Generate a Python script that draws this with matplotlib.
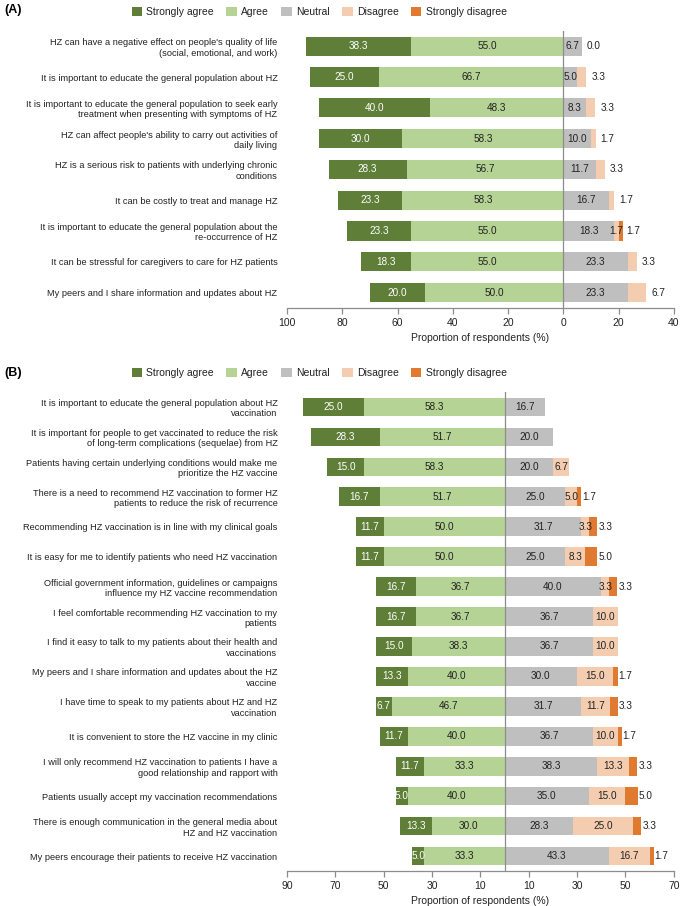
import numpy as np
import matplotlib
matplotlib.use('Agg')
import matplotlib.pyplot as plt
from matplotlib.patches import Patch

plt.rcParams['font.family'] = ['Liberation Sans', 'DejaVu Sans']

# Categorias de respuesta
cats = ['Strongly agree', 'Agree', 'Neutral', 'Disagree', 'Strongly disagree']
colors = ['#5f7e38', '#b5d394', '#bfbfbf', '#f4cdb0', '#e07a30']

# Panel A
labels_a = [
    "HZ can have a negative effect on people's quality of life\n(social, emotional, and work)",
    "It is important to educate the general population about HZ",
    "It is important to educate the general population to seek early\ntreatment when presenting with symptoms of HZ",
    "HZ can affect people's ability to carry out activities of\ndaily living",
    "HZ is a serious risk to patients with underlying chronic\nconditions",
    "It can be costly to treat and manage HZ",
    "It is important to educate the general population about the\nre-occurrence of HZ",
    "It can be stressful for caregivers to care for HZ patients",
    "My peers and I share information and updates about HZ",
]
sa_a = [38.3, 25.0, 40.0, 30.0, 28.3, 23.3, 23.3, 18.3, 20.0]
ag_a = [55.0, 66.7, 48.3, 58.3, 56.7, 58.3, 55.0, 55.0, 50.0]
ne_a = [6.7, 5.0, 8.3, 10.0, 11.7, 16.7, 18.3, 23.3, 23.3]
di_a = [0.0, 3.3, 3.3, 1.7, 3.3, 1.7, 1.7, 3.3, 6.7]
sd_a = [0.0, 0.0, 0.0, 0.0, 0.0, 0.0, 1.7, 0.0, 0.0]
ticks_a = [-100, -80, -60, -40, -20, 0, 20, 40]

# Panel B
labels_b = [
    "It is important to educate the general population about HZ\nvaccination",
    "It is important for people to get vaccinated to reduce the risk\nof long-term complications (sequelae) from HZ",
    "Patients having certain underlying conditions would make me\nprioritize the HZ vaccine",
    "There is a need to recommend HZ vaccination to former HZ\npatients to reduce the risk of recurrence",
    "Recommending HZ vaccination is in line with my clinical goals",
    "It is easy for me to identify patients who need HZ vaccination",
    "Official government information, guidelines or campaigns\ninfluence my HZ vaccine recommendation",
    "I feel comfortable recommending HZ vaccination to my\npatients",
    "I find it easy to talk to my patients about their health and\nvaccinations",
    "My peers and I share information and updates about the HZ\nvaccine",
    "I have time to speak to my patients about HZ and HZ\nvaccination",
    "It is convenient to store the HZ vaccine in my clinic",
    "I will only recommend HZ vaccination to patients I have a\ngood relationship and rapport with",
    "Patients usually accept my vaccination recommendations",
    "There is enough communication in the general media about\nHZ and HZ vaccination",
    "My peers encourage their patients to receive HZ vaccination",
]
sa_b = [25.0, 28.3, 15.0, 16.7, 11.7, 11.7, 16.7, 16.7, 15.0, 13.3, 6.7, 11.7, 11.7, 5.0, 13.3, 5.0]
ag_b = [58.3, 51.7, 58.3, 51.7, 50.0, 50.0, 36.7, 36.7, 38.3, 40.0, 46.7, 40.0, 33.3, 40.0, 30.0, 33.3]
ne_b = [16.7, 20.0, 20.0, 25.0, 31.7, 25.0, 40.0, 36.7, 36.7, 30.0, 31.7, 36.7, 38.3, 35.0, 28.3, 43.3]
di_b = [0.0, 0.0, 6.7, 5.0, 3.3, 8.3, 3.3, 10.0, 10.0, 15.0, 11.7, 10.0, 13.3, 15.0, 25.0, 16.7]
sd_b = [0.0, 0.0, 0.0, 1.7, 3.3, 5.0, 3.3, 0.0, 0.0, 1.7, 3.3, 1.7, 3.3, 5.0, 3.3, 1.7]
ticks_b = [-90, -70, -50, -30, -10, 10, 30, 50, 70]

fs = 7.2
fs_lab = 6.7
txt = '#222222'
axcol = '#8c8c8c'


def panel(ax, labels, sa, ag, ne, di, sd, ticks, xlim, modo):
    n = len(labels)
    y = np.arange(n)
    sa, ag, ne, di, sd = map(np.array, (sa, ag, ne, di, sd))
    h = 0.62
    ax.barh(y, -ag, left=0, height=h, color=colors[1])
    ax.barh(y, -sa, left=-ag, height=h, color=colors[0])
    ax.barh(y, ne, left=0, height=h, color=colors[2])
    ax.barh(y, di, left=ne, height=h, color=colors[3])
    ax.barh(y, sd, left=ne + di, height=h, color=colors[4])
    for i in range(n):
        ax.text(-ag[i] - sa[i] / 2, i, f'{sa[i]:.1f}', ha='center', va='center', color='white', fontsize=fs)
        ax.text(-ag[i] / 2, i, f'{ag[i]:.1f}', ha='center', va='center', color=txt, fontsize=fs)
        ax.text(ne[i] / 2, i, f'{ne[i]:.1f}', ha='center', va='center', color=txt, fontsize=fs)
        fin = ne[i] + di[i] + sd[i]
        if modo == 'A':
            if sd[i] > 0:
                ax.text(ne[i] + di[i] / 2, i, f'{di[i]:.1f}', ha='center', va='center', color=txt, fontsize=fs)
                ax.text(fin + 1.2, i, f'{sd[i]:.1f}', ha='left', va='center', color=txt, fontsize=fs)
            else:
                ax.text(fin + 1.8, i, f'{di[i]:.1f}', ha='left', va='center', color=txt, fontsize=fs)
        else:
            if di[i] > 0:
                ax.text(ne[i] + di[i] / 2, i, f'{di[i]:.1f}', ha='center', va='center', color=txt, fontsize=fs)
            if sd[i] > 0:
                ax.text(fin + 0.4, i, f'{sd[i]:.1f}', ha='left', va='center', color=txt, fontsize=fs)
    ax.axvline(0, color=axcol, lw=0.9)
    ax.set_ylim(n - 0.5, -0.5)
    ax.set_xlim(*xlim)
    ax.set_yticks(y)
    ax.set_yticklabels(labels, fontsize=fs_lab, color=txt, linespacing=1.2)
    ax.tick_params(axis='y', length=0, pad=7)
    ax.set_xticks(ticks)
    ax.set_xticklabels([str(abs(t)) for t in ticks], fontsize=7.5, color=txt)
    ax.tick_params(axis='x', length=4, color=axcol, width=0.9, pad=3)
    for s in ['top', 'right', 'left']:
        ax.spines[s].set_visible(False)
    ax.spines['bottom'].set_color(axcol)
    ax.spines['bottom'].set_linewidth(0.9)
    ax.set_xlabel('Proportion of respondents (%)', fontsize=7.5, color=txt, labelpad=4)


fig = plt.figure(figsize=(6.82, 9.06), dpi=100)
ax_a = fig.add_axes([0.421, 0.660, 0.567, 0.306])
ax_b = fig.add_axes([0.421, 0.0386, 0.567, 0.5288])

panel(ax_a, labels_a, sa_a, ag_a, ne_a, di_a, sd_a, ticks_a, (-100, 40), 'A')
panel(ax_b, labels_b, sa_b, ag_b, ne_b, di_b, sd_b, ticks_b, (-90, 70), 'B')

handles = [Patch(facecolor=c, edgecolor='none') for c in colors]
for yy in [0.9868, 0.5883]:
    fig.legend(handles, cats, loc='center', bbox_to_anchor=(0.468, yy), ncol=5, frameon=False,
               fontsize=7.5, handlelength=1.0, handleheight=1.0, handletextpad=0.4, columnspacing=1.2,
               labelcolor=txt)

fig.text(0.006, 0.989, '(A)', fontsize=9, fontweight='bold', va='center', ha='left')
fig.text(0.006, 0.588, '(B)', fontsize=9, fontweight='bold', va='center', ha='left')

plt.savefig('out.png', dpi=100)
